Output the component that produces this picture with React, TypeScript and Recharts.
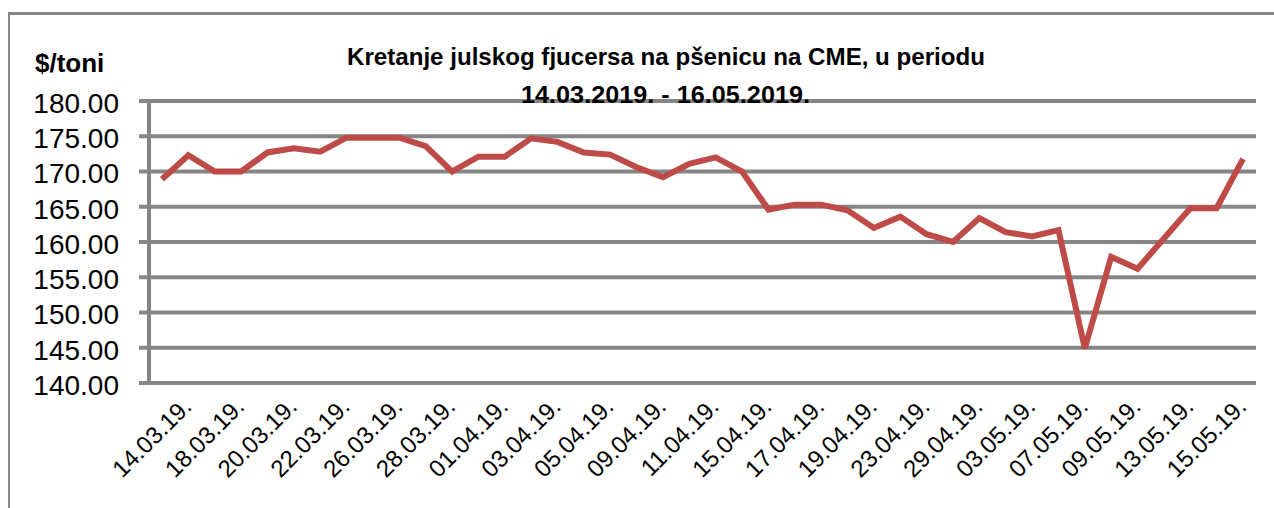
import React from "react";
import { LineChart, Line, XAxis, YAxis, CartesianGrid } from "recharts";

const dates = [
  "14.03.19.", "15.03.19.", "18.03.19.", "19.03.19.", "20.03.19.", "21.03.19.",
  "22.03.19.", "25.03.19.", "26.03.19.", "27.03.19.", "28.03.19.", "29.03.19.",
  "01.04.19.", "02.04.19.", "03.04.19.", "04.04.19.", "05.04.19.", "08.04.19.",
  "09.04.19.", "10.04.19.", "11.04.19.", "12.04.19.", "15.04.19.", "16.04.19.",
  "17.04.19.", "18.04.19.", "19.04.19.", "22.04.19.", "23.04.19.", "26.04.19.",
  "29.04.19.", "02.05.19.", "03.05.19.", "06.05.19.", "07.05.19.", "08.05.19.",
  "09.05.19.", "10.05.19.", "13.05.19.", "14.05.19.", "15.05.19.", "16.05.19.",
];

const prices = [
  168.9, 172.3, 170.0, 170.0, 172.7, 173.3, 172.8, 174.8, 174.8, 174.8, 173.6, 170.0,
  172.1, 172.1, 174.7, 174.2, 172.7, 172.4, 170.6, 169.2, 171.1, 172.0, 170.0, 164.6,
  165.3, 165.3, 164.5, 162.0, 163.6, 161.1, 160.0, 163.4, 161.4, 160.8, 161.7, 144.9,
  157.9, 156.2, 160.5, 164.8, 164.8, 171.8,
];

const yTicks = [140, 145, 150, 155, 160, 165, 170, 175, 180];

const titleLine1 = "Kretanje julskog fjucersa na  pšenicu na CME, u periodu";
const titleLine2 = "14.03.2019. - 16.05.2019.";
const yUnit = "$/toni";

const data = dates.map((d, i) => ({ date: d, price: prices[i] }));

const GRID = "#868686";
const LINE = "#BE4B48";
const FONT = "'Liberation Sans Narrow', 'Liberation Sans', Arial, sans-serif";

const XTick = (props: any) => {
  const { x, y, payload } = props;
  return (
    <g transform={`translate(${x + 31},${y + 7})`}>
      <text
        x={0}
        y={0}
        textAnchor="end"
        transform="rotate(-45)"
        fontSize={24}
        fontFamily="'Liberation Sans', Arial, sans-serif"
        fill="#000"
      >
        {payload.value}
      </text>
    </g>
  );
};

export default function App() {
  return (
    <div style={{ position: "absolute", left: 0, top: 0, width: 1274, height: 508, background: "#fff", overflow: "hidden" }}>
      <div
        style={{
          position: "absolute",
          left: 8,
          top: 12,
          width: 1300,
          height: 520,
          borderTop: `3px solid ${GRID}`,
          borderLeft: `2px solid ${GRID}`,
          boxSizing: "border-box",
        }}
      />
      <div style={{ position: "absolute", left: 0, top: 0 }}>
        <LineChart
          width={1274}
          height={508}
          data={data}
          margin={{ top: 101, right: 18, left: 49, bottom: 25 }}
        >
          <CartesianGrid vertical={false} stroke={GRID} strokeWidth={4} />
          <XAxis
            dataKey="date"
            interval={1}
            axisLine={false}
            tickLine={false}
            height={100}
            tick={<XTick />}
            tickMargin={0}
            tickSize={18}
            padding={{ left: 13, right: 13 }}
          />
          <YAxis
            domain={[140, 180]}
            ticks={yTicks}
            width={100}
            interval={0}
            tickFormatter={(v: number) => v.toFixed(2)}
            axisLine={{ stroke: GRID, strokeWidth: 4 }}
            tickLine={{ stroke: GRID, strokeWidth: 4 }}
            tickSize={10}
            tickMargin={20}
            tick={{ fontSize: 28, fill: "#000", fontFamily: FONT, dy: 2 }}
          />
          <Line
            type="linear"
            dataKey="price"
            stroke={LINE}
            strokeWidth={6}
            dot={false}
            isAnimationActive={false}
          />
        </LineChart>
      </div>
      <svg width={1274} height={508} style={{ position: "absolute", left: 0, top: 0, pointerEvents: "none" }}>
        <text x={35} y={72} fontSize={26} fontWeight="bold" fontFamily={FONT} fill="#000">
          {yUnit}
        </text>
        <text x={347} y={65} fontSize={24} fontWeight="bold" fontFamily={FONT} fill="#000" textLength={638} lengthAdjust="spacingAndGlyphs">
          {titleLine1}
        </text>
        <text x={521} y={103} fontSize={24} fontWeight="bold" fontFamily={FONT} fill="#000" textLength={289} lengthAdjust="spacingAndGlyphs">
          {titleLine2}
        </text>
      </svg>
    </div>
  );
}
